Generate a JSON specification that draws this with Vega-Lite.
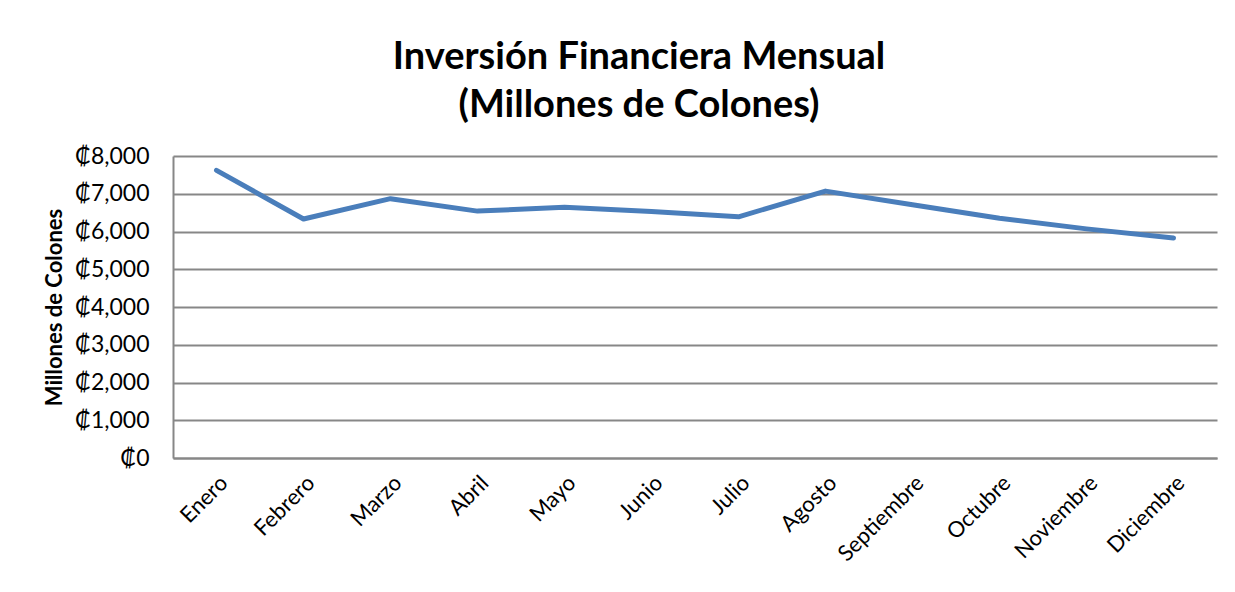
{
  "$schema": "https://vega.github.io/schema/vega-lite/v6.json",
  "autosize": "none",
  "width": 1044,
  "height": 302,
  "padding": {"left": 173, "top": 156, "right": 18, "bottom": 134},
  "background": "white",
  "title": {
    "text": ["Inversión Financiera Mensual", "(Millones de Colones)"],
    "font": "Lato",
    "fontSize": 38,
    "fontWeight": "bold",
    "color": "#000000",
    "anchor": "middle",
    "dx": -56,
    "lineHeight": 48,
    "offset": 20
  },
  "data": {
    "values": [
      {"mes": "Enero", "valor": 7620},
      {"mes": "Febrero", "valor": 6330},
      {"mes": "Marzo", "valor": 6870},
      {"mes": "Abril", "valor": 6540},
      {"mes": "Mayo", "valor": 6640},
      {"mes": "Junio", "valor": 6530},
      {"mes": "Julio", "valor": 6390},
      {"mes": "Agosto", "valor": 7070},
      {"mes": "Septiembre", "valor": 6710},
      {"mes": "Octubre", "valor": 6350},
      {"mes": "Noviembre", "valor": 6070},
      {"mes": "Diciembre", "valor": 5830}
    ]
  },
  "mark": {"type": "line", "color": "#4a7ebb", "strokeWidth": 5, "strokeCap": "round", "strokeJoin": "round"},
  "encoding": {
    "x": {
      "field": "mes",
      "type": "ordinal",
      "sort": null,
      "scale": {"type": "point", "padding": 0.5},
      "axis": {
        "title": null,
        "labelAngle": -45,
        "labelAlign": "right",
        "labelBaseline": "top",
        "labelPadding": 14,
        "labelDx": -3,
        "labelFont": "Lato",
        "labelFontSize": 22,
        "labelColor": "#000000",
        "ticks": false,
        "grid": false,
        "domainColor": "#878787",
        "domainWidth": 2
      }
    },
    "y": {
      "field": "valor",
      "type": "quantitative",
      "scale": {"domain": [0, 8000], "nice": false},
      "axis": {
        "title": "Millones de Colones",
        "titleFont": "Lato",
        "titleFontSize": 22,
        "titleFontWeight": "bold",
        "titleColor": "#000000",
        "titlePadding": 8,
        "values": [0, 1000, 2000, 3000, 4000, 5000, 6000, 7000, 8000],
        "labelExpr": "'₡' + format(datum.value, ',')",
        "labelFont": "Lato",
        "labelFontSize": 23,
        "labelColor": "#000000",
        "labelPadding": 24,
        "ticks": false,
        "grid": true,
        "gridColor": "#878787",
        "gridWidth": 2,
        "domainColor": "#878787",
        "domainWidth": 2
      }
    }
  },
  "config": {"view": {"stroke": null}}
}
